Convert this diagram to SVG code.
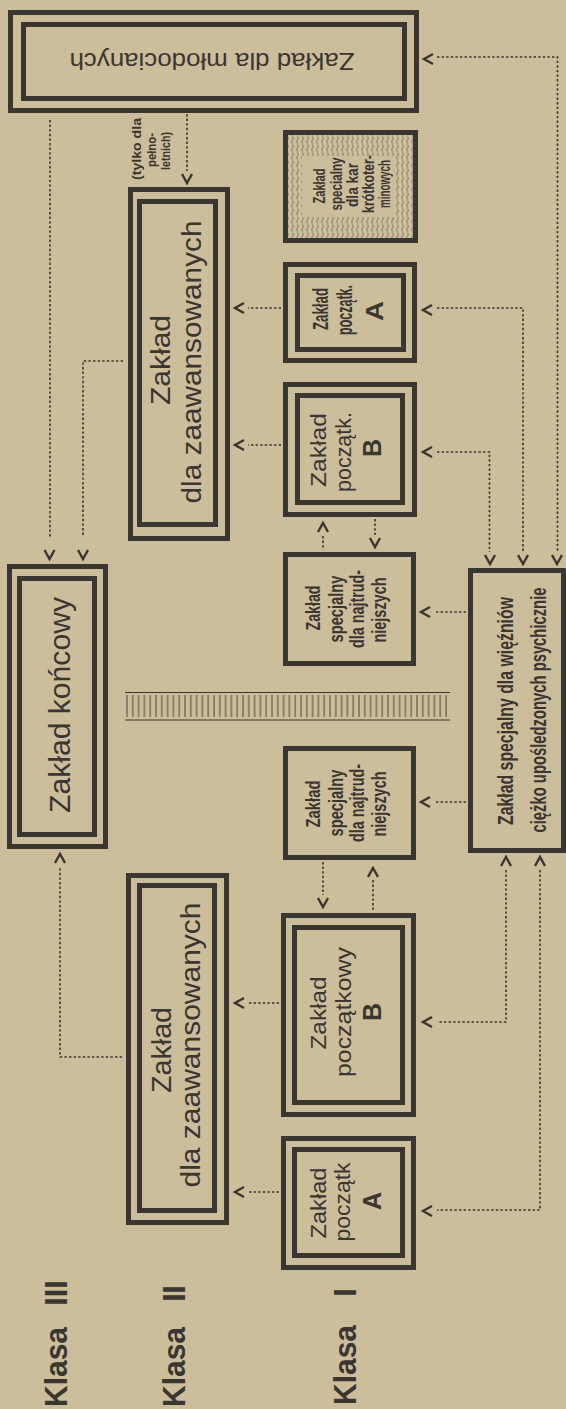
<svg xmlns="http://www.w3.org/2000/svg" xmlns:xlink="http://www.w3.org/1999/xlink" width="566" height="1409" viewBox="0 0 566 1409">
<style>
.frame{fill:none;stroke:#3a3632;stroke-width:5}
.dot{fill:none;stroke:#3a3632;stroke-width:1.6;stroke-dasharray:2.4 2.2}
.ch{fill:none;stroke:#3a3632;stroke-width:2.4}
.geo{font-family:"Liberation Sans","DejaVu Sans",sans-serif;fill:#3a3632}
.cond{font-family:"Liberation Sans Narrow","Liberation Sans",sans-serif;font-weight:bold;fill:#3a3632}
.klasa{font-family:"Liberation Sans","DejaVu Sans",sans-serif;font-weight:bold;font-size:32px;fill:#3a3632}
.thin{fill:none;stroke:#3a3632;stroke-width:1}
</style>
<defs>
<path id="chL" d="M9,-5 L0,0 L9,5"/>
<path id="chD" d="M-5,-9 L0,0 L5,-9"/>
<path id="chU" d="M-5,9 L0,0 L5,9"/>
<pattern id="hatch" patternUnits="userSpaceOnUse" x="126" y="0" width="5.8" height="40">
<line x1="1" y1="0" x2="1" y2="40" stroke="#3a3632" stroke-width="0.9"/>
</pattern>
<pattern id="wave" patternUnits="userSpaceOnUse" width="5" height="8">
<path d="M2.5,0.5 Q4.2,2.25 2.5,4 Q0.8,5.75 2.5,7.5" fill="none" stroke="#3a3632" stroke-width="0.6"/>
</pattern>
</defs>
<rect x="0" y="0" width="566" height="1409" fill="#ccbd9b"/>

<g id="labels">
<text class="klasa" transform="rotate(-90)" y="67"><tspan x="-1407" textLength="80" lengthAdjust="spacingAndGlyphs">Klasa</tspan><tspan x="-1306" textLength="26" lengthAdjust="spacing">III</tspan></text>
<text class="klasa" transform="rotate(-90)" y="185"><tspan x="-1407" textLength="80" lengthAdjust="spacingAndGlyphs">Klasa</tspan><tspan x="-1302" textLength="17" lengthAdjust="spacing">II</tspan></text>
<text class="klasa" transform="rotate(-90)" y="356"><tspan x="-1405" textLength="80" lengthAdjust="spacingAndGlyphs">Klasa</tspan><tspan x="-1297">I</tspan></text>
</g>

<g id="n-mlodociani">
<rect class="frame" x="10.5" y="12.5" width="406" height="98"/>
<rect class="frame" x="23.5" y="24.5" width="381" height="74"/>
<text class="geo" font-size="24" transform="rotate(180)" x="-212" y="-53" text-anchor="middle" textLength="285" lengthAdjust="spacingAndGlyphs">Zakład dla młodocianych</text>
</g>

<g id="n-kar">
<path d="M288,135 H413 V238 H288 Z M302,156 V217 H396 V156 Z" fill="url(#wave)" fill-rule="evenodd" opacity="0.85"/>
<rect class="frame" x="285.5" y="132.5" width="130" height="108"/>
<g class="cond" font-size="16" text-anchor="middle">
<text transform="rotate(-90)" x="-186" y="325" textLength="35" lengthAdjust="spacingAndGlyphs">Zakład</text>
<text transform="rotate(-90)" x="-184" y="342" textLength="53" lengthAdjust="spacingAndGlyphs">specialny</text>
<text transform="rotate(-90)" x="-185" y="358" textLength="44" lengthAdjust="spacingAndGlyphs">dla kar</text>
<text transform="rotate(-90)" x="-184" y="374" textLength="58" lengthAdjust="spacingAndGlyphs">krótkoter-</text>
<text transform="rotate(-90)" x="-184" y="390" textLength="48" lengthAdjust="spacingAndGlyphs">minowych</text>
</g>
</g>

<g id="n-poczA1">
<rect class="frame" x="285.5" y="264.5" width="129" height="96"/>
<rect class="frame" x="297.5" y="275.5" width="106" height="74"/>
<text class="cond" font-size="22" transform="rotate(-90)" x="-309" y="328" text-anchor="middle" textLength="42" lengthAdjust="spacingAndGlyphs">Zakład</text>
<text class="cond" font-size="22" transform="rotate(-90)" x="-310" y="352" text-anchor="middle" textLength="50" lengthAdjust="spacingAndGlyphs">początk.</text>
<text class="geo" font-size="24" font-weight="bold" transform="rotate(-90)" x="-311" y="383" text-anchor="middle" textLength="20" lengthAdjust="spacingAndGlyphs">A</text>
</g>

<g id="n-poczB1">
<rect class="frame" x="285.5" y="384.5" width="129" height="130"/>
<rect class="frame" x="297.5" y="395.5" width="105" height="107"/>
<text class="geo" font-size="22" transform="rotate(-90)" x="-450" y="326" text-anchor="middle" textLength="74" lengthAdjust="spacingAndGlyphs">Zakład</text>
<text class="geo" font-size="22" transform="rotate(-90)" x="-452" y="351" text-anchor="middle" textLength="80" lengthAdjust="spacingAndGlyphs">początk.</text>
<text class="geo" font-size="25" font-weight="bold" transform="rotate(-90)" x="-448" y="381" text-anchor="middle">B</text>
</g>

<g id="n-spec1">
<rect class="frame" x="285.5" y="554.5" width="128" height="109"/>
<g class="cond" font-size="20" text-anchor="middle">
<text transform="rotate(-90)" x="-608" y="320" textLength="45" lengthAdjust="spacingAndGlyphs">Zakład</text>
<text transform="rotate(-90)" x="-609" y="343" textLength="67" lengthAdjust="spacingAndGlyphs">specjalny</text>
<text transform="rotate(-90)" x="-609" y="364" textLength="78" lengthAdjust="spacingAndGlyphs">dla najtrud-</text>
<text transform="rotate(-90)" x="-610" y="386" textLength="65" lengthAdjust="spacingAndGlyphs">niejszych</text>
</g>
</g>

<g id="separator">
<line class="thin" x1="125" y1="692.5" x2="450" y2="692.5"/>
<line class="thin" x1="125" y1="720" x2="450" y2="720"/>
<rect x="125" y="695" width="325" height="22" fill="url(#hatch)"/>
</g>

<g id="n-spec2">
<rect class="frame" x="285.5" y="748.5" width="128" height="109"/>
<g class="cond" font-size="20" text-anchor="middle">
<text transform="rotate(-90)" x="-804" y="320" textLength="47" lengthAdjust="spacingAndGlyphs">Zakład</text>
<text transform="rotate(-90)" x="-803" y="343" textLength="67" lengthAdjust="spacingAndGlyphs">specjalny</text>
<text transform="rotate(-90)" x="-803" y="364" textLength="78" lengthAdjust="spacingAndGlyphs">dla najtrud-</text>
<text transform="rotate(-90)" x="-804" y="386" textLength="65" lengthAdjust="spacingAndGlyphs">niejszych</text>
</g>
</g>

<g id="n-poczB2">
<rect class="frame" x="283.5" y="915.5" width="130" height="199"/>
<rect class="frame" x="294.5" y="927.5" width="108" height="175"/>
<text class="geo" font-size="22" transform="rotate(-90)" x="-1013" y="326" text-anchor="middle" textLength="73" lengthAdjust="spacingAndGlyphs">Zakład</text>
<text class="geo" font-size="22" transform="rotate(-90)" x="-1012" y="351" text-anchor="middle" textLength="130" lengthAdjust="spacingAndGlyphs">początkowy</text>
<text class="geo" font-size="25" font-weight="bold" transform="rotate(-90)" x="-1012" y="381" text-anchor="middle">B</text>
</g>

<g id="n-poczA2">
<rect class="frame" x="283.5" y="1138.5" width="130" height="129"/>
<rect class="frame" x="294.5" y="1149.5" width="108" height="106"/>
<text class="geo" font-size="22" transform="rotate(-90)" x="-1203" y="326" text-anchor="middle" textLength="71" lengthAdjust="spacingAndGlyphs">Zakład</text>
<text class="geo" font-size="22" transform="rotate(-90)" x="-1202" y="350" text-anchor="middle" textLength="79" lengthAdjust="spacingAndGlyphs">początk</text>
<text class="geo" font-size="25" font-weight="bold" transform="rotate(-90)" x="-1201" y="381" text-anchor="middle">A</text>
</g>

<g id="n-zaaw1">
<rect class="frame" x="130.5" y="189.5" width="97" height="349"/>
<rect class="frame" x="139.5" y="201.5" width="76" height="323"/>
<text class="geo" font-size="28" transform="rotate(-90)" x="-360" y="170" text-anchor="middle" textLength="90" lengthAdjust="spacingAndGlyphs">Zakład</text>
<text class="geo" font-size="28" transform="rotate(-90)" x="-362" y="201" text-anchor="middle" textLength="283" lengthAdjust="spacingAndGlyphs">dla zaawansowanych</text>
</g>

<g id="n-zaaw2">
<rect class="frame" x="128.5" y="875.5" width="98" height="347"/>
<rect class="frame" x="139.5" y="885.5" width="75" height="325"/>
<text class="geo" font-size="28" transform="rotate(-90)" x="-1050" y="171" text-anchor="middle" textLength="86" lengthAdjust="spacingAndGlyphs">Zakład</text>
<text class="geo" font-size="28" transform="rotate(-90)" x="-1045" y="200" text-anchor="middle" textLength="285" lengthAdjust="spacingAndGlyphs">dla zaawansowanych</text>
</g>

<g id="n-koncowy">
<rect class="frame" x="9.5" y="566.5" width="96" height="280"/>
<rect class="frame" x="19.5" y="578.5" width="75" height="256"/>
<text class="geo" font-size="30" transform="rotate(-90)" x="-705" y="70" text-anchor="middle" textLength="216" lengthAdjust="spacingAndGlyphs">Zakład końcowy</text>
</g>

<g id="n-wiezniow">
<rect class="frame" x="470.5" y="570.5" width="93" height="280"/>
<text class="cond" font-size="22" transform="rotate(-90)" x="-711" y="513" text-anchor="middle" textLength="228" lengthAdjust="spacingAndGlyphs">Zakład specjalny dla więźniów</text>
<text class="cond" font-size="22" transform="rotate(-90)" x="-710" y="546" text-anchor="middle" textLength="245" lengthAdjust="spacingAndGlyphs">ciężko upośledzonych psychicznie</text>
</g>

<g id="note">
<g class="cond" font-size="13" text-anchor="middle">
<text transform="rotate(-90)" x="-149" y="141" textLength="62" lengthAdjust="spacingAndGlyphs">(tylko dla</text>
<text transform="rotate(-90)" x="-150" y="156" textLength="34" lengthAdjust="spacingAndGlyphs">pełno-</text>
<text transform="rotate(-90)" x="-151" y="170" textLength="38" lengthAdjust="spacingAndGlyphs">letnich)</text>
</g>
</g>

<g id="connectors">
<g class="dot">
<path d="M50,120 V537"/>
<path d="M123,361 H83 V537"/>
<path d="M187,114 V171"/>
<path d="M122,1057 H60 V867"/>
<path d="M281,308 H248"/>
<path d="M281,445 H248"/>
<path d="M279,1003 H248"/>
<path d="M279,1192 H248"/>
<path d="M323,536 V550"/>
<path d="M375,519 V535"/>
<path d="M323,862 V895"/>
<path d="M373,880 V911"/>
<path d="M466,612 H435"/>
<path d="M466,802 H435"/>
<path d="M437,57 H557.5 V552"/>
<path d="M437,308 H523 V552"/>
<path d="M437,452 H489.5 V552"/>
<path d="M506,870 V1022 H437"/>
<path d="M540,870 V1210 H437"/>
</g>
<g class="ch">
<use xlink:href="#chL" x="424" y="59"/>
<use xlink:href="#chL" x="423" y="310"/>
<use xlink:href="#chL" x="423" y="452"/>
<use xlink:href="#chL" x="421" y="612"/>
<use xlink:href="#chL" x="421" y="802"/>
<use xlink:href="#chL" x="423" y="1022"/>
<use xlink:href="#chL" x="423" y="1211"/>
<use xlink:href="#chL" x="235" y="308"/>
<use xlink:href="#chL" x="235" y="445"/>
<use xlink:href="#chL" x="235" y="1003"/>
<use xlink:href="#chL" x="235" y="1192"/>
<use xlink:href="#chD" x="49.5" y="559"/>
<use xlink:href="#chD" x="83" y="559"/>
<use xlink:href="#chD" x="187" y="183"/>
<use xlink:href="#chD" x="375" y="547"/>
<use xlink:href="#chD" x="323" y="907"/>
<use xlink:href="#chD" x="490" y="564"/>
<use xlink:href="#chD" x="523" y="564"/>
<use xlink:href="#chD" x="557" y="564"/>
<use xlink:href="#chU" x="60" y="854"/>
<use xlink:href="#chU" x="323" y="523"/>
<use xlink:href="#chU" x="373" y="868"/>
<use xlink:href="#chU" x="506" y="857"/>
<use xlink:href="#chU" x="540" y="857"/>
</g>
</g>
</svg>
